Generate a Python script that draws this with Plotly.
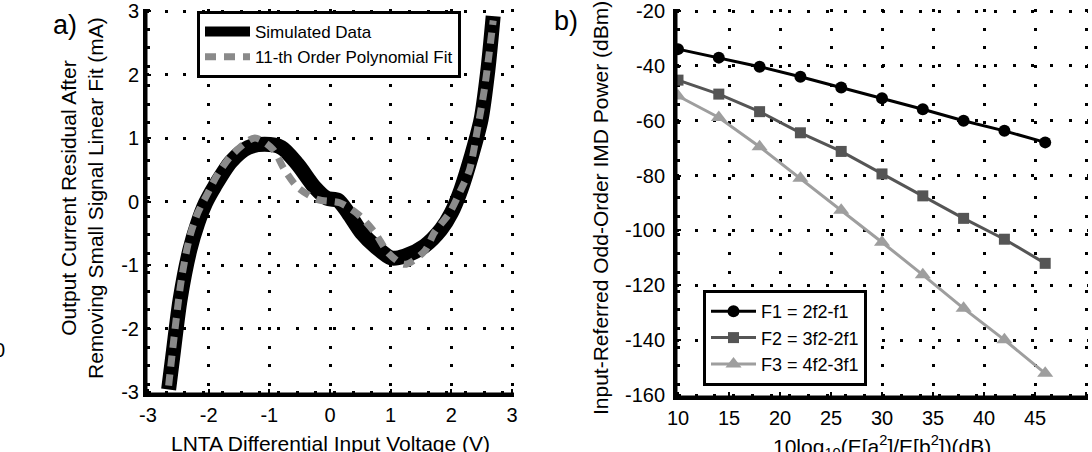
import plotly.graph_objects as go

# ---------------- data: panel a ----------------
sim_x = [-2.66, -2.58, -2.47, -2.31, -2.18, -2.05, -1.90, -1.63, -1.35, -1.08, -0.80, -0.53,
         -0.25, -0.05, 0.13, 0.30, 0.52, 0.74, 1.01, 1.23, 1.56, 1.83, 2.00, 2.16, 2.33, 2.49,
         2.60, 2.69]
sim_y = [-2.96, -2.35, -1.54, -0.76, -0.34, -0.02, 0.24, 0.63, 0.85, 0.90, 0.85, 0.58,
         0.22, 0.05, 0.02, -0.18, -0.49, -0.70, -0.89, -0.86, -0.70, -0.44, -0.18, 0.19, 0.71, 1.29,
         2.05, 2.92]
fit_x = [-2.66, -2.45, -2.31, -2.18, -2.01, -1.85, -1.60, -1.24, -0.94, -0.75, -0.53, -0.20,
         0.16, 0.46, 0.74, 0.96, 1.23, 1.56, 1.72, 1.97, 2.16, 2.30, 2.44, 2.55, 2.69]
fit_y = [-2.90, -1.23, -0.55, -0.18, 0.14, 0.43, 0.75, 1.00, 0.82, 0.50, 0.22, 0.03,
         -0.02, -0.20, -0.49, -0.81, -0.99, -0.78, -0.49, -0.18, 0.19, 0.50, 1.19, 1.80, 2.85]
a_ticks = [-3, -2, -1, 0, 1, 2, 3]
a_ticktext = ["-3", "-2", "-1", "0", "1", "2", "3"]

# ---------------- data: panel b ----------------
snr_db = [10, 14, 18, 22, 26, 30, 34, 38, 42, 46]
f1_pow = [-33.9, -37.0, -40.3, -44.0, -47.9, -51.8, -55.8, -60.0, -63.7, -67.9]
f2_pow = [-45.2, -50.3, -56.7, -64.4, -71.2, -79.4, -87.4, -95.6, -103.2, -112.0]
f3_pow = [-51.0, -58.8, -69.5, -81.0, -92.6, -104.3, -116.2, -128.4, -139.9, -152.1]
b_xticks = [10, 15, 20, 25, 30, 35, 40, 45, 50]
b_xticktext = ["10", "15", "20", "25", "30", "35", "40", "45", "50"]
b_yticks = [-160, -140, -120, -100, -80, -60, -40, -20]
b_yticktext = ["-160", "-140", "-120", "-100", "-80", "-60", "-40", "-20"]

FONT = "Liberation Sans, Arial, Helvetica, sans-serif"
W, H = 1092, 452
PAD = 2  # px of padding so edge grid lines are kept


def hspan(p0, p1, v0, v1):
    k = (v1 - v0) / (p1 - p0)
    return [(p0 - PAD) / W, (p1 + PAD) / W], [v0 - PAD * k, v1 + PAD * k]


def vspan(ptop, pbot, v0, v1):
    k = (v1 - v0) / (pbot - ptop)
    return [(H - pbot - PAD) / H, (H - ptop + PAD) / H], [v0 - PAD * k, v1 + PAD * k]


x1d, x1r = hspan(148, 512, -3, 3)
y1d, y1r = vspan(11, 392, -3, 3)
x2d, x2r = hspan(678, 1086, 10, 50)
y2d, y2r = vspan(11, 395, -160, -20)

fig = go.Figure()

fig.add_trace(go.Scatter(x=sim_x, y=sim_y, mode="lines", name="Simulated Data",
                         line=dict(color="black", width=15, shape="spline", smoothing=0.8),
                         xaxis="x", yaxis="y", legend="legend"))
fig.add_trace(go.Scatter(x=fit_x, y=fit_y, mode="lines", name="11-th Order Polynomial Fit",
                         line=dict(color="#8a8a8a", width=7, dash="11px,8px", shape="spline", smoothing=0.8),
                         xaxis="x", yaxis="y", legend="legend"))

fig.add_trace(go.Scatter(x=snr_db, y=f1_pow, mode="lines+markers", name="F1 = 2f2-f1",
                         line=dict(color="black", width=3),
                         marker=dict(symbol="circle", size=12, color="black"),
                         xaxis="x2", yaxis="y2", legend="legend2"))
fig.add_trace(go.Scatter(x=snr_db, y=f2_pow, mode="lines+markers", name="F2 = 3f2-2f1",
                         line=dict(color="#555555", width=3),
                         marker=dict(symbol="square", size=11, color="#555555"),
                         xaxis="x2", yaxis="y2", legend="legend2"))
fig.add_trace(go.Scatter(x=snr_db, y=f3_pow, mode="lines+markers", name="F3 = 4f2-3f1",
                         line=dict(color="#9e9e9e", width=3),
                         marker=dict(symbol="triangle-up", size=14, color="#9e9e9e"),
                         xaxis="x2", yaxis="y2", legend="legend2"))

common_axis = dict(showline=True, linecolor="black", linewidth=3, mirror=False, ticks="inside", ticklen=5,
                   tickwidth=2, tickcolor="black", showgrid=True, gridcolor="black", gridwidth=3,
                   griddash="3px,15.7px", zeroline=False, layer="above traces",
                   tickfont=dict(family=FONT, size=20, color="black"), automargin=False)

fig.update_layout(
    width=W, height=H, margin=dict(l=0, r=0, t=0, b=0, autoexpand=False),
    paper_bgcolor="white", plot_bgcolor="white",
    font=dict(family=FONT, color="black"),
    xaxis=dict(domain=x1d, range=x1r, tickvals=a_ticks, ticktext=a_ticktext,
               anchor="y", ticklabelstandoff=1, **common_axis),
    yaxis=dict(domain=y1d, range=y1r, tickvals=a_ticks, ticktext=a_ticktext,
               anchor="x", ticklabelstandoff=0, **common_axis),
    xaxis2=dict(domain=x2d, range=x2r, tickvals=b_xticks, ticktext=b_xticktext,
                anchor="y2", ticklabelstandoff=1, **common_axis),
    yaxis2=dict(domain=y2d, range=y2r, tickvals=b_yticks, ticktext=b_yticktext,
                anchor="x2", ticklabelstandoff=4, **common_axis),
    legend=dict(x=197 / W, y=(H - 11) / H, xanchor="left", yanchor="top",
                bgcolor="white", bordercolor="black", borderwidth=3,
                font=dict(family=FONT, size=17, color="black"), itemwidth=45,
                tracegroupgap=0),
    legend2=dict(x=703 / W, y=(H - 290) / H, xanchor="left", yanchor="top",
                 bgcolor="white", bordercolor="black", borderwidth=3,
                 font=dict(family=FONT, size=18, color="black"), itemwidth=45,
                 tracegroupgap=0),
    showlegend=True,
)

# axis spines (left and bottom only, MATLAB "box off" look)
shapes = []
for xr, yr in (("x domain", "y domain"), ("x2 domain", "y2 domain")):
    shapes.append(dict(type="line", xref=xr, yref=yr, x0=0, x1=0, y0=0, y1=1,
                       line=dict(color="black", width=3), layer="above"))
    shapes.append(dict(type="line", xref=xr, yref=yr, x0=0, x1=1, y0=0, y1=0,
                       line=dict(color="black", width=3), layer="above"))
fig.update_layout(shapes=shapes)

annotations = [
    dict(text="LNTA Differential Input Voltage (V)", x=330 / W, y=(H - 443) / H, xref="paper", yref="paper",
         showarrow=False, xanchor="center", yanchor="middle", font=dict(family=FONT, size=21)),
    dict(text="10log<sub>10</sub>(E[a<sup>2</sup>]/E[b<sup>2</sup>])(dB)", x=882 / W, y=(H - 446) / H,
         xref="paper", yref="paper", showarrow=False, xanchor="center", yanchor="middle",
         font=dict(family=FONT, size=21)),
    dict(text="Output Current Residual After<br>Removing Small Signal Linear Fit (mA)", x=82 / W,
         y=(H - 198) / H, xref="paper", yref="paper", showarrow=False, textangle=-90,
         xanchor="center", yanchor="middle", font=dict(family=FONT, size=21)),
    dict(text="Input-Referred Odd-Order IMD Power (dBm)", x=600 / W, y=(H - 208) / H,
         xref="paper", yref="paper", showarrow=False, textangle=-90,
         xanchor="center", yanchor="middle", font=dict(family=FONT, size=21)),
    dict(text="a)", x=65 / W, y=(H - 25) / H, xref="paper", yref="paper", showarrow=False,
         xanchor="center", yanchor="middle", font=dict(family=FONT, size=27)),
    dict(text="b)", x=566 / W, y=(H - 21) / H, xref="paper", yref="paper", showarrow=False,
         xanchor="center", yanchor="middle", font=dict(family=FONT, size=27)),
    dict(text="0", x=-1 / W, y=(H - 350) / H, xref="paper", yref="paper", showarrow=False,
         xanchor="center", yanchor="middle", font=dict(family=FONT, size=20)),
]
fig.update_layout(annotations=annotations)

fig.write_html("out.html")
